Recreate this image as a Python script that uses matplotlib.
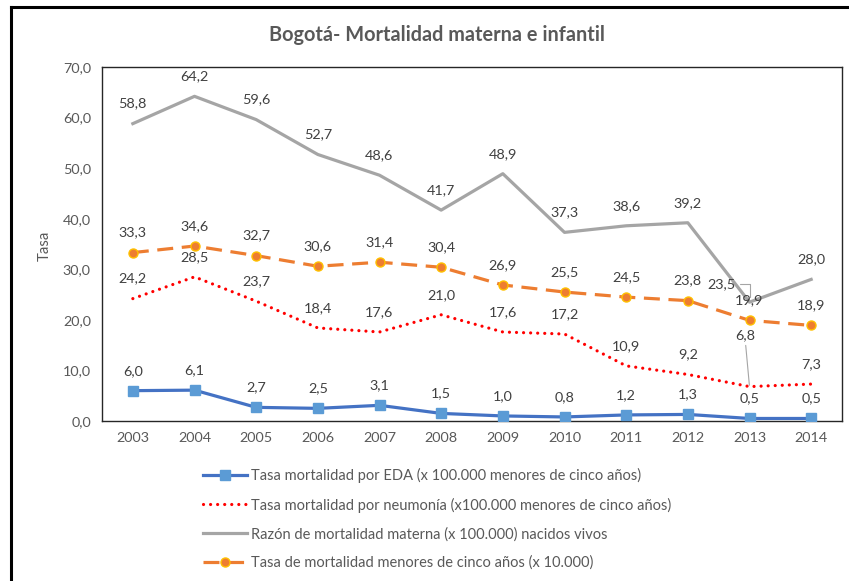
import matplotlib.pyplot as plt
from matplotlib.lines import Line2D

years = ["2003", "2004", "2005", "2006", "2007", "2008",
         "2009", "2010", "2011", "2012", "2013", "2014"]
eda = [6.0, 6.1, 2.7, 2.5, 3.1, 1.5, 1.0, 0.8, 1.2, 1.3, 0.5, 0.5]
neumonia = [24.2, 28.5, 23.7, 18.4, 17.6, 21.0, 17.6, 17.2, 10.9, 9.2, 6.8, 7.3]
materna = [58.8, 64.2, 59.6, 52.7, 48.6, 41.7, 48.9, 37.3, 38.6, 39.2, 23.5, 28.0]
menores5 = [33.3, 34.6, 32.7, 30.6, 31.4, 30.4, 26.9, 25.5, 24.5, 23.8, 19.9, 18.9]

names = ["Tasa mortalidad por EDA (x 100.000 menores de cinco años)",
         "Tasa mortalidad por neumonía (x100.000 menores de cinco años)",
         "Razón de mortalidad materna (x 100.000) nacidos vivos",
         "Tasa de mortalidad menores de cinco años (x 10.000)"]

plt.rcParams["font.family"] = ["Lato", "DejaVu Sans"]
TXT = "#595959"
LBL = "#404040"
FS = 10.4
LFS = 10.5


def fmt(v):
    return f"{v:.1f}".replace(".", ",")


W, H = 849, 581
fig = plt.figure(figsize=(W / 100, H / 100), dpi=100)
ax = fig.add_axes([102 / W, 1 - 421 / H, 740 / W, 354 / H])

x = list(range(len(years)))

ax.plot(x, eda, color="#4472C4", lw=2.3, marker="s", ms=6.5,
        mfc="#5B9BD5", mec="#5B9BD5", zorder=4)
ax.plot(x, neumonia, color="#FF0000", lw=2.3, dashes=(0.01, 2.2),
        dash_capstyle="round", zorder=3)
ax.plot(x, materna, color="#A5A5A5", lw=2.3, zorder=2)
ax.plot(x, menores5, color="#ED7D31", lw=2.3, dashes=(5, 2.7),
        marker="o", ms=6.5, mfc="#ED7D31", mec="#FFC000", mew=1, zorder=3)

# data labels (above the points)
for series, key in [(eda, "eda"), (neumonia, "neu"), (materna, "mat"), (menores5, "men")]:
    for i, v in enumerate(series):
        if i == 10 and key in ("neu", "mat"):
            continue
        ax.annotate(fmt(v), (i, v), xytext=(0, 14.4), textcoords="offset points",
                    ha="center", va="center", fontsize=FS, color=LBL)

# manually moved labels with leader lines
ax.annotate(fmt(materna[10]), (10, materna[10]), xytext=(-20, 13),
            textcoords="offset points", ha="center", va="center",
            fontsize=FS, color=LBL,
            arrowprops=dict(arrowstyle="-", color="#A5A5A5", lw=0.8,
                            connectionstyle="angle,angleA=0,angleB=90",
                            relpos=(1, 0.55), shrinkA=1, shrinkB=4))
ax.annotate(fmt(neumonia[10]), (10, neumonia[10]), xytext=(-3, 37),
            textcoords="offset points", ha="center", va="center",
            fontsize=FS, color=LBL,
            arrowprops=dict(arrowstyle="-", color="#A5A5A5", lw=0.8,
                            relpos=(0.5, 0), shrinkA=1, shrinkB=1))

ax.set_xlim(-0.5, len(years) - 0.5)
ax.set_ylim(0, 70)
ax.set_xticks(x)
ax.set_xticklabels(years)
ax.set_yticks(range(0, 71, 10))
ax.set_yticklabels([fmt(v) for v in range(0, 71, 10)])
ax.tick_params(length=0, labelsize=FS, colors=TXT, pad=8)
for s in ax.spines.values():
    s.set_color("#262626")
    s.set_linewidth(1)

fig.text(45 / W, 1 - 246 / H, "Tasa", rotation=90, ha="center", va="center",
         fontsize=10.8, color=TXT)
fig.text(437 / W, 1 - 35 / H, "Bogotá- Mortalidad materna e infantil",
         ha="center", va="center", fontsize=14.3, fontweight="bold", color=TXT)

handles = [
    Line2D([], [], color="#4472C4", lw=2.3, marker="s", ms=6.5,
           mfc="#5B9BD5", mec="#5B9BD5"),
    Line2D([], [], color="#FF0000", lw=2.3, dashes=(0.01, 2.2),
           dash_capstyle="round"),
    Line2D([], [], color="#A5A5A5", lw=2.3),
    Line2D([], [], color="#ED7D31", lw=2.3, dashes=(5, 2.7), marker="o",
           ms=6.5, mfc="#ED7D31", mec="#FFC000", mew=1),
]
leg = fig.legend(handles, names, loc="upper left",
                 bbox_to_anchor=(203 / W, 1 - 468 / H), frameon=False,
                 fontsize=LFS, handlelength=3.0, handletextpad=0.32,
                 labelspacing=0.99, borderpad=0, borderaxespad=0, numpoints=1)
for t in leg.get_texts():
    t.set_color(TXT)

# outer chart border
fig.add_artist(Line2D([11 / W, 11 / W], [0, 1 - 7 / H], color="black", lw=2.2))
fig.add_artist(Line2D([11 / W, 1], [1 - 7 / H, 1 - 7 / H], color="black", lw=2.2))

fig.savefig("out.png", dpi=100)
